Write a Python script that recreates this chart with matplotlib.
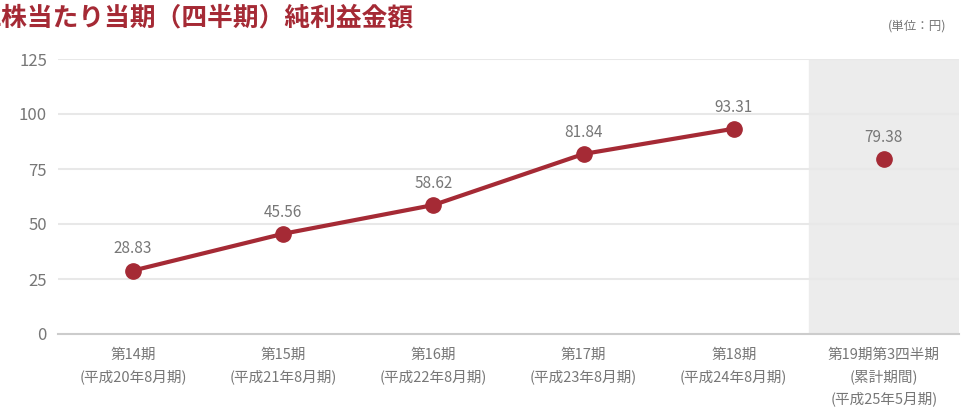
import matplotlib
matplotlib.use('Agg')
import matplotlib.pyplot as plt

plt.rcParams['font.family'] = ['Noto Sans CJK JP', 'DejaVu Sans']

periods = ['第14期\n(平成20年8月期)', '第15期\n(平成21年8月期)', '第16期\n(平成22年8月期)',
           '第17期\n(平成23年8月期)', '第18期\n(平成24年8月期)',
           '第19期第3四半期\n(累計期間)\n(平成25年5月期)']
annual_eps = [28.83, 45.56, 58.62, 81.84, 93.31]
quarter_eps = [79.38]
yticks = [0, 25, 50, 75, 100, 125]

red = '#a52a35'
gray = '#777777'

fig = plt.figure(figsize=(9.61, 4.07), dpi=100)
ax = fig.add_axes([58/961, 73/407, 901/961, 275/407])

xs = list(range(len(periods)))
ax.axvspan(4.5, 5.5, color='#ececec', zorder=0)
for y in yticks[1:]:
    ax.axhline(y, color='#e8e8e8', lw=1.5, zorder=1)

ax.plot(xs[:5], annual_eps, color=red, lw=3, marker='o', ms=11, zorder=3)
ax.plot(xs[5:], quarter_eps, color=red, lw=0, marker='o', ms=11, zorder=3)

for x, v in zip(xs, annual_eps + quarter_eps):
    ax.text(x, v + 6, f'{v:.2f}', ha='center', va='bottom', fontsize=11, color=gray)

ax.set_xlim(-0.5, 5.5)
ax.set_ylim(0, 125)
ax.set_yticks(yticks)
ax.set_xticks(xs)
ax.set_xticklabels(periods, fontsize=10.5, color=gray, linespacing=1.6, va='top')
ax.tick_params(axis='y', length=0, labelsize=12, labelcolor=gray, pad=8)
ax.tick_params(axis='x', length=0, pad=10)
for s in ['top', 'right', 'left']:
    ax.spines[s].set_visible(False)
ax.spines['bottom'].set_color('#cccccc')
ax.spines['bottom'].set_linewidth(1.5)

fig.text(-0.014, 0.955, '1株当たり当期（四半期）純利益金額', fontsize=18.5, fontweight='bold',
         color=red, ha='left', va='center')
fig.text(0.985, 0.935, '(単位：円)', fontsize=9, color=gray, ha='right', va='center')

fig.savefig('out.png', dpi=100)
